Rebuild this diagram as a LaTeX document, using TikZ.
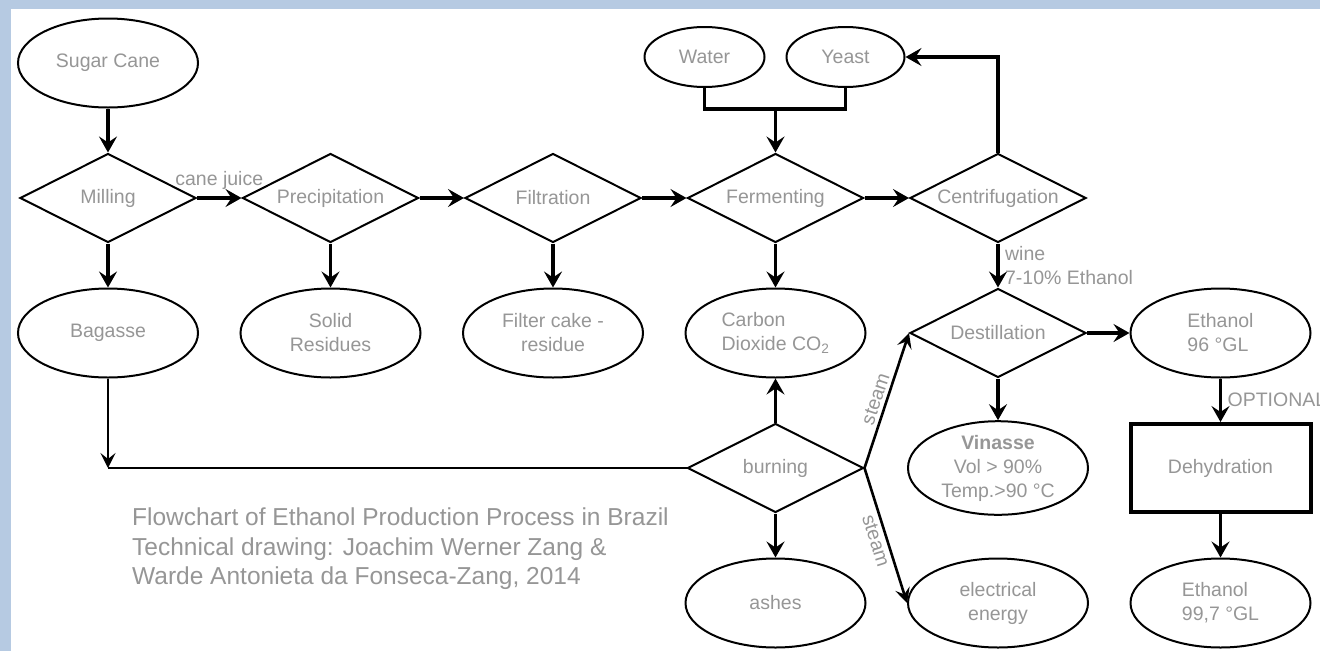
\documentclass[tikz,border=0pt]{standalone}
\usepackage{fontspec}
\setmainfont{Liberation Sans}
\usepackage{tikz}
\usetikzlibrary{shapes.geometric, arrows.meta, positioning}

\definecolor{txtgray}{RGB}{150,150,150}
\definecolor{frameblue}{RGB}{182,202,226}
\newcommand{\flowfont}{\fontsize{19.5}{24}\selectfont}
\newcommand{\notefont}{\fontsize{24.5}{29.5}\selectfont}

\tikzset{
    base/.style = {draw=black, line width=2pt, text=txtgray,
        font=\flowfont, align=center},
    oval/.style = {base, ellipse, minimum width=180pt,
        minimum height=89pt, inner sep=0pt},
    decision/.style = {base, diamond, aspect=2, minimum width=176pt,
        minimum height=89pt, inner sep=0pt},
    process/.style = {base, rectangle, line width=4pt,
        minimum width=180pt, minimum height=88pt},
    flow/.style = {-{Stealth[length=16pt, width=18pt, inset=6pt]},
        line width=3.5pt},
    thinflow/.style = {-{Stealth[length=15pt, width=15pt, inset=6pt]},
        line width=2.6pt},
    lbl/.style = {text=txtgray, font=\flowfont}
}

\begin{document}
\begin{tikzpicture} [x=1pt, y=-1pt,
            node distance = 135pt and 222.5pt,
            on grid]

        % page and frame
        \useasboundingbox (0,0) rectangle (1320,651);
        \fill[white] (0,0) rectangle (1320,651);
        \fill[frameblue] (0,0) rectangle (11,651);
        \fill[frameblue] (0,0) rectangle (1320,9);

        % Input
        \node (cane) [oval] at (108,63) {Sugar Cane};

        % Main line
        \node (milling) [decision,
            below = of cane] {Milling};
        \node (precip) [decision,
            right = of milling] {Precipitation};
        \node (filtr) [decision,
            right = of precip] {Filtration};
        \node (ferm) [decision,
            right = of filtr] {Fermenting};
        \node (centri) [decision,
            right = of ferm] {Centrifugation};

        % Water and yeast
        \node (water) [oval, minimum width=120pt, minimum height=60pt,
            above left = 141pt and 71pt of ferm] {Water};
        \node (yeast) [oval, minimum width=118pt, minimum height=60pt,
            right = 141pt of water] {Yeast};
        \node (mix) [coordinate, above = 89pt of ferm] {};

        % Residues
        \node (bagasse) [oval,
            below = of milling] {Bagasse};
        \node (solid) [oval,
            below = of precip] {Solid\\Residues};
        \node (cake) [oval,
            below = of filtr] {Filter cake -\\residue};
        \node (co2) [oval, align=left,
            below = of ferm] {Carbon\\Dioxide CO\textsubscript{2}};

        % Distillation
        \node (destill) [decision,
            below = of centri] {Destillation};
        \node (eth96) [oval, align=left,
            right = of destill] {Ethanol\\96 °GL};
        \node (vinasse) [oval,
            below = of destill] {\textbf{Vinasse}\\Vol > 90\%\\Temp.>90 °C};
        \node (dehyd) [process,
            below = of eth96] {Dehydration};
        \node (eth99) [oval, align=left,
            below = of dehyd] {Ethanol\\99,7 °GL};

        % Burning
        \node (burning) [decision,
            below = of co2] {burning};
        \node (ashes) [oval,
            below = of burning] {ashes};
        \node (elec) [oval,
            right = of ashes] {electrical\\energy};
        \node (bend) [coordinate, below = of bagasse] {};

        % Note
        \node (note) [lbl, font=\notefont, align=left, inner sep=0pt,
            anchor=west] at (132,549)
            {Flowchart of Ethanol Production Process in Brazil\\
             Technical drawing: Joachim Werner Zang \&\\
             Warde Antonieta da Fonseca-Zang, 2014};

        % Arrows
        \path [flow]
            (cane) edge (milling)
            (milling) edge node [lbl, above, yshift=3pt] {cane juice} (precip)
            (precip) edge (filtr)
            (filtr) edge (ferm)
            (ferm) edge (centri)
            (milling) edge (bagasse)
            (precip) edge (solid)
            (filtr) edge (cake)
            (ferm) edge (co2)
            (mix) edge (ferm)
            (centri) edge node [lbl, right, align=left, xshift=2pt]
                {wine\\7-10\% Ethanol} (destill)
            (destill) edge (eth96)
            (destill) edge (vinasse)
            (eth96) edge node [lbl, right, xshift=2pt] {OPTIONAL} (dehyd)
            (dehyd) edge (eth99)
            (burning) edge (co2)
            (burning) edge (ashes);

        \draw [flow] (centri.north) |- (yeast.east);
        \draw [line width=3.5pt] (water.south) |- (mix) -| (yeast.south);

        \draw [thinflow] (bagasse) -- (bend);
        \draw [line width=2.6pt] (bend) -- (burning.west);
        \draw [thinflow] (burning.east) -- node [lbl, sloped, above,
            xshift=-2pt] {steam} (destill.west);
        \draw [thinflow] (burning.east) -- node [lbl, sloped, below,
            xshift=2pt] {steam} (elec.west);
        \end{tikzpicture}
\end{document}
